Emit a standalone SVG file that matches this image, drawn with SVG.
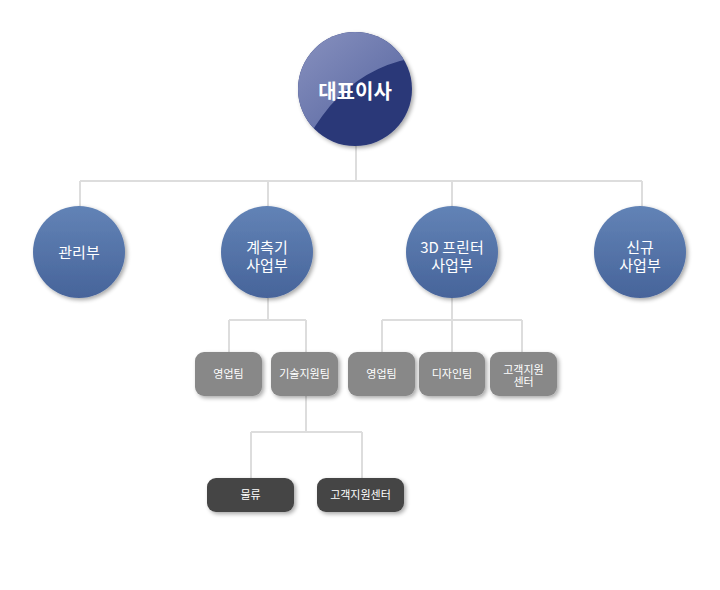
<svg xmlns="http://www.w3.org/2000/svg" width="720" height="590" viewBox="0 0 720 590">
<defs>
<linearGradient id="blue" x1="0" y1="0" x2="0" y2="1">
<stop offset="0" stop-color="#6283b6"/>
<stop offset="1" stop-color="#47649a"/>
</linearGradient>
<linearGradient id="gloss" x1="0" y1="0" x2="1" y2="1">
<stop offset="0" stop-color="#8a93c0"/>
<stop offset="1" stop-color="#4a5a98"/>
</linearGradient>
<clipPath id="topclip"><circle cx="355" cy="89" r="57"/></clipPath>
<filter id="sh" x="-30%" y="-30%" width="160%" height="160%">
<feGaussianBlur in="SourceAlpha" stdDeviation="2"/>
<feOffset dx="2" dy="2" result="b"/>
<feComponentTransfer><feFuncA type="linear" slope="0.35"/></feComponentTransfer>
<feMerge><feMergeNode/><feMergeNode in="SourceGraphic"/></feMerge>
</filter>
</defs>
<style>
.ln{fill:none;stroke:#dddddd;stroke-width:2}
.c2{fill:url(#blue);filter:url(#sh)}
.t{font-family:"Noto Sans CJK KR","Noto Sans",sans-serif;fill:#fff;text-anchor:middle}
.t1{font-size:20px;font-weight:bold}
.t2{font-size:15px}
.t3{font-size:11px}
.b3{fill:#888888;filter:url(#sh)}
.b4{fill:#444444;filter:url(#sh)}
</style>
<g id="connectors">
<path class="ln" d="M356 146V181M80 181H642M80 181V208M268 181V208M452 181V208M642 181V208"/>
<path class="ln" d="M268 298V320M229 320H306M229 320V353M306 320V353"/>
<path class="ln" d="M452 298V320M382 320H522M382 320V353M452 320V353M522 320V353"/>
<path class="ln" d="M306 396V432M251 432H362M251 432V479M362 432V479"/>
</g>
<g id="ceo">
<circle cx="355" cy="89" r="57" fill="#2a3878" filter="url(#sh)"/>
<path d="M290 30H430V56Q370 60 330 106Q312 128 302 150H290Z" fill="url(#gloss)" clip-path="url(#topclip)"/>
<text class="t t1" x="355" y="99">대표이사</text>
</g>
<g id="n-admin">
<circle class="c2" cx="79" cy="252" r="46"/>
<text class="t t2" x="79" y="258">관리부</text>
</g>
<g id="n-measure">
<circle class="c2" cx="267" cy="252" r="46"/>
<text class="t t2" x="267" y="253">계측기</text>
<text class="t t2" x="267" y="271">사업부</text>
</g>
<g id="n-3d">
<circle class="c2" cx="452" cy="252" r="46"/>
<text class="t t2" x="452" y="253">3D 프린터</text>
<text class="t t2" x="452" y="271">사업부</text>
</g>
<g id="n-new">
<circle class="c2" cx="640" cy="252" r="46"/>
<text class="t t2" x="640" y="253">신규</text>
<text class="t t2" x="640" y="271">사업부</text>
</g>
<g id="n-sales1">
<rect class="b3" x="195" y="352" width="67" height="44" rx="9"/>
<text class="t t3" x="228.5" y="378">영업팀</text>
</g>
<g id="n-tech">
<rect class="b3" x="271" y="352" width="67" height="44" rx="9"/>
<text class="t t3" x="304.5" y="378">기술지원팀</text>
</g>
<g id="n-sales2">
<rect class="b3" x="348" y="352" width="67" height="44" rx="9"/>
<text class="t t3" x="381.5" y="378">영업팀</text>
</g>
<g id="n-design">
<rect class="b3" x="419" y="352" width="66" height="44" rx="9"/>
<text class="t t3" x="452" y="378">디자인팀</text>
</g>
<g id="n-cs">
<rect class="b3" x="490" y="352" width="67" height="44" rx="9"/>
<text class="t t3" x="523.5" y="374">고객지원</text>
<text class="t t3" x="523.5" y="386">센터</text>
</g>
<g id="n-logistics">
<rect class="b4" x="207" y="478" width="87" height="34" rx="9"/>
<text class="t t3" x="250.5" y="499">물류</text>
</g>
<g id="n-cscenter">
<rect class="b4" x="317" y="478" width="87" height="34" rx="9"/>
<text class="t t3" x="360.5" y="499">고객지원센터</text>
</g>
</svg>
